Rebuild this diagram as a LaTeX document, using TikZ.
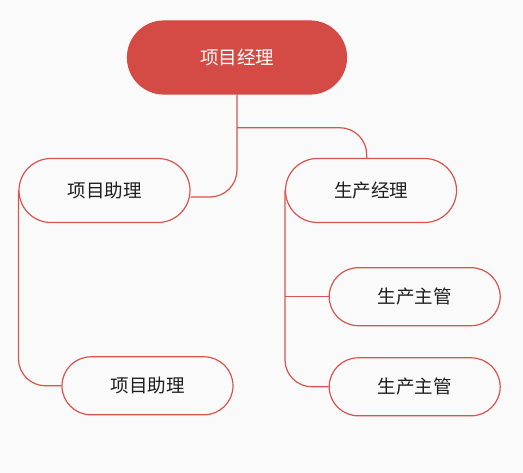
\documentclass[tikz,border=0pt]{standalone}
\usepackage{fontspec}
\usetikzlibrary{backgrounds}
\newfontfamily\cjk{Noto Sans CJK SC}
\definecolor{redc}{RGB}{212,74,68}
\definecolor{linec}{RGB}{217,84,78}
\definecolor{bgc}{RGB}{250,250,250}
\definecolor{txt}{RGB}{30,30,30}
\begin{document}
\begin{tikzpicture}[x=1pt,y=-1pt,
  rootbox/.style={rectangle,rounded corners=36.5pt,fill=redc,draw=redc,line width=1.2pt,minimum width=219pt,minimum height=73pt,inner sep=0pt,text=white,font=\cjk\fontsize{18.5}{22}\selectfont},
  lvlone/.style={rectangle,rounded corners=32pt,fill=bgc,draw=linec,line width=1.2pt,minimum width=171pt,minimum height=64pt,inner sep=0pt,text=txt,font=\cjk\fontsize{18.5}{22}\selectfont},
  lvltwo/.style={rectangle,rounded corners=29pt,fill=bgc,draw=linec,line width=1.2pt,minimum width=171pt,minimum height=58pt,inner sep=0pt,text=txt,font=\cjk\fontsize{18.5}{22}\selectfont},
  conn/.style={draw=linec,line width=1.2pt,rounded corners=27pt}]
\useasboundingbox (0,0) rectangle (523,473);
\node[rootbox] (root) at (237,57.5) {项目经理};
\node[lvlone] (n1) at (104.5,190.5) {项目助理};
\node[lvlone] (n2) at (371,190.5) {生产经理};
\node[lvltwo] (n3) at (147.5,385.8) {项目助理};
\node[lvltwo] (n4) at (414.7,296.7) {生产主管};
\node[lvltwo] (n5) at (414.7,386.8) {生产主管};
\coordinate (ja) at (237,197);
\coordinate (jb) at (366.7,127.7);
\coordinate (lc) at (18.5,385.8);
\coordinate (rc) at (285,386.8);
\coordinate (rb) at (285,296.7);
\coordinate (rt) at (285,190.5);
\coordinate (lt) at (18.5,190.5);
\begin{pgfonlayer}{background}
\fill[bgc] (0,0) rectangle (523,473);
\path[conn] (root.south) -- (ja) -- (n1.east |- ja);
\path[conn] (root.south |- jb) -- (jb) -- (n2.north -| jb);
\path[conn] (lt) -- (lc) -- (n3.west);
\path[conn] (rt) -- (rc) -- (n5.west);
\path[conn] (rb) -- (n4.west);
\end{pgfonlayer}
\end{tikzpicture}
\end{document}
